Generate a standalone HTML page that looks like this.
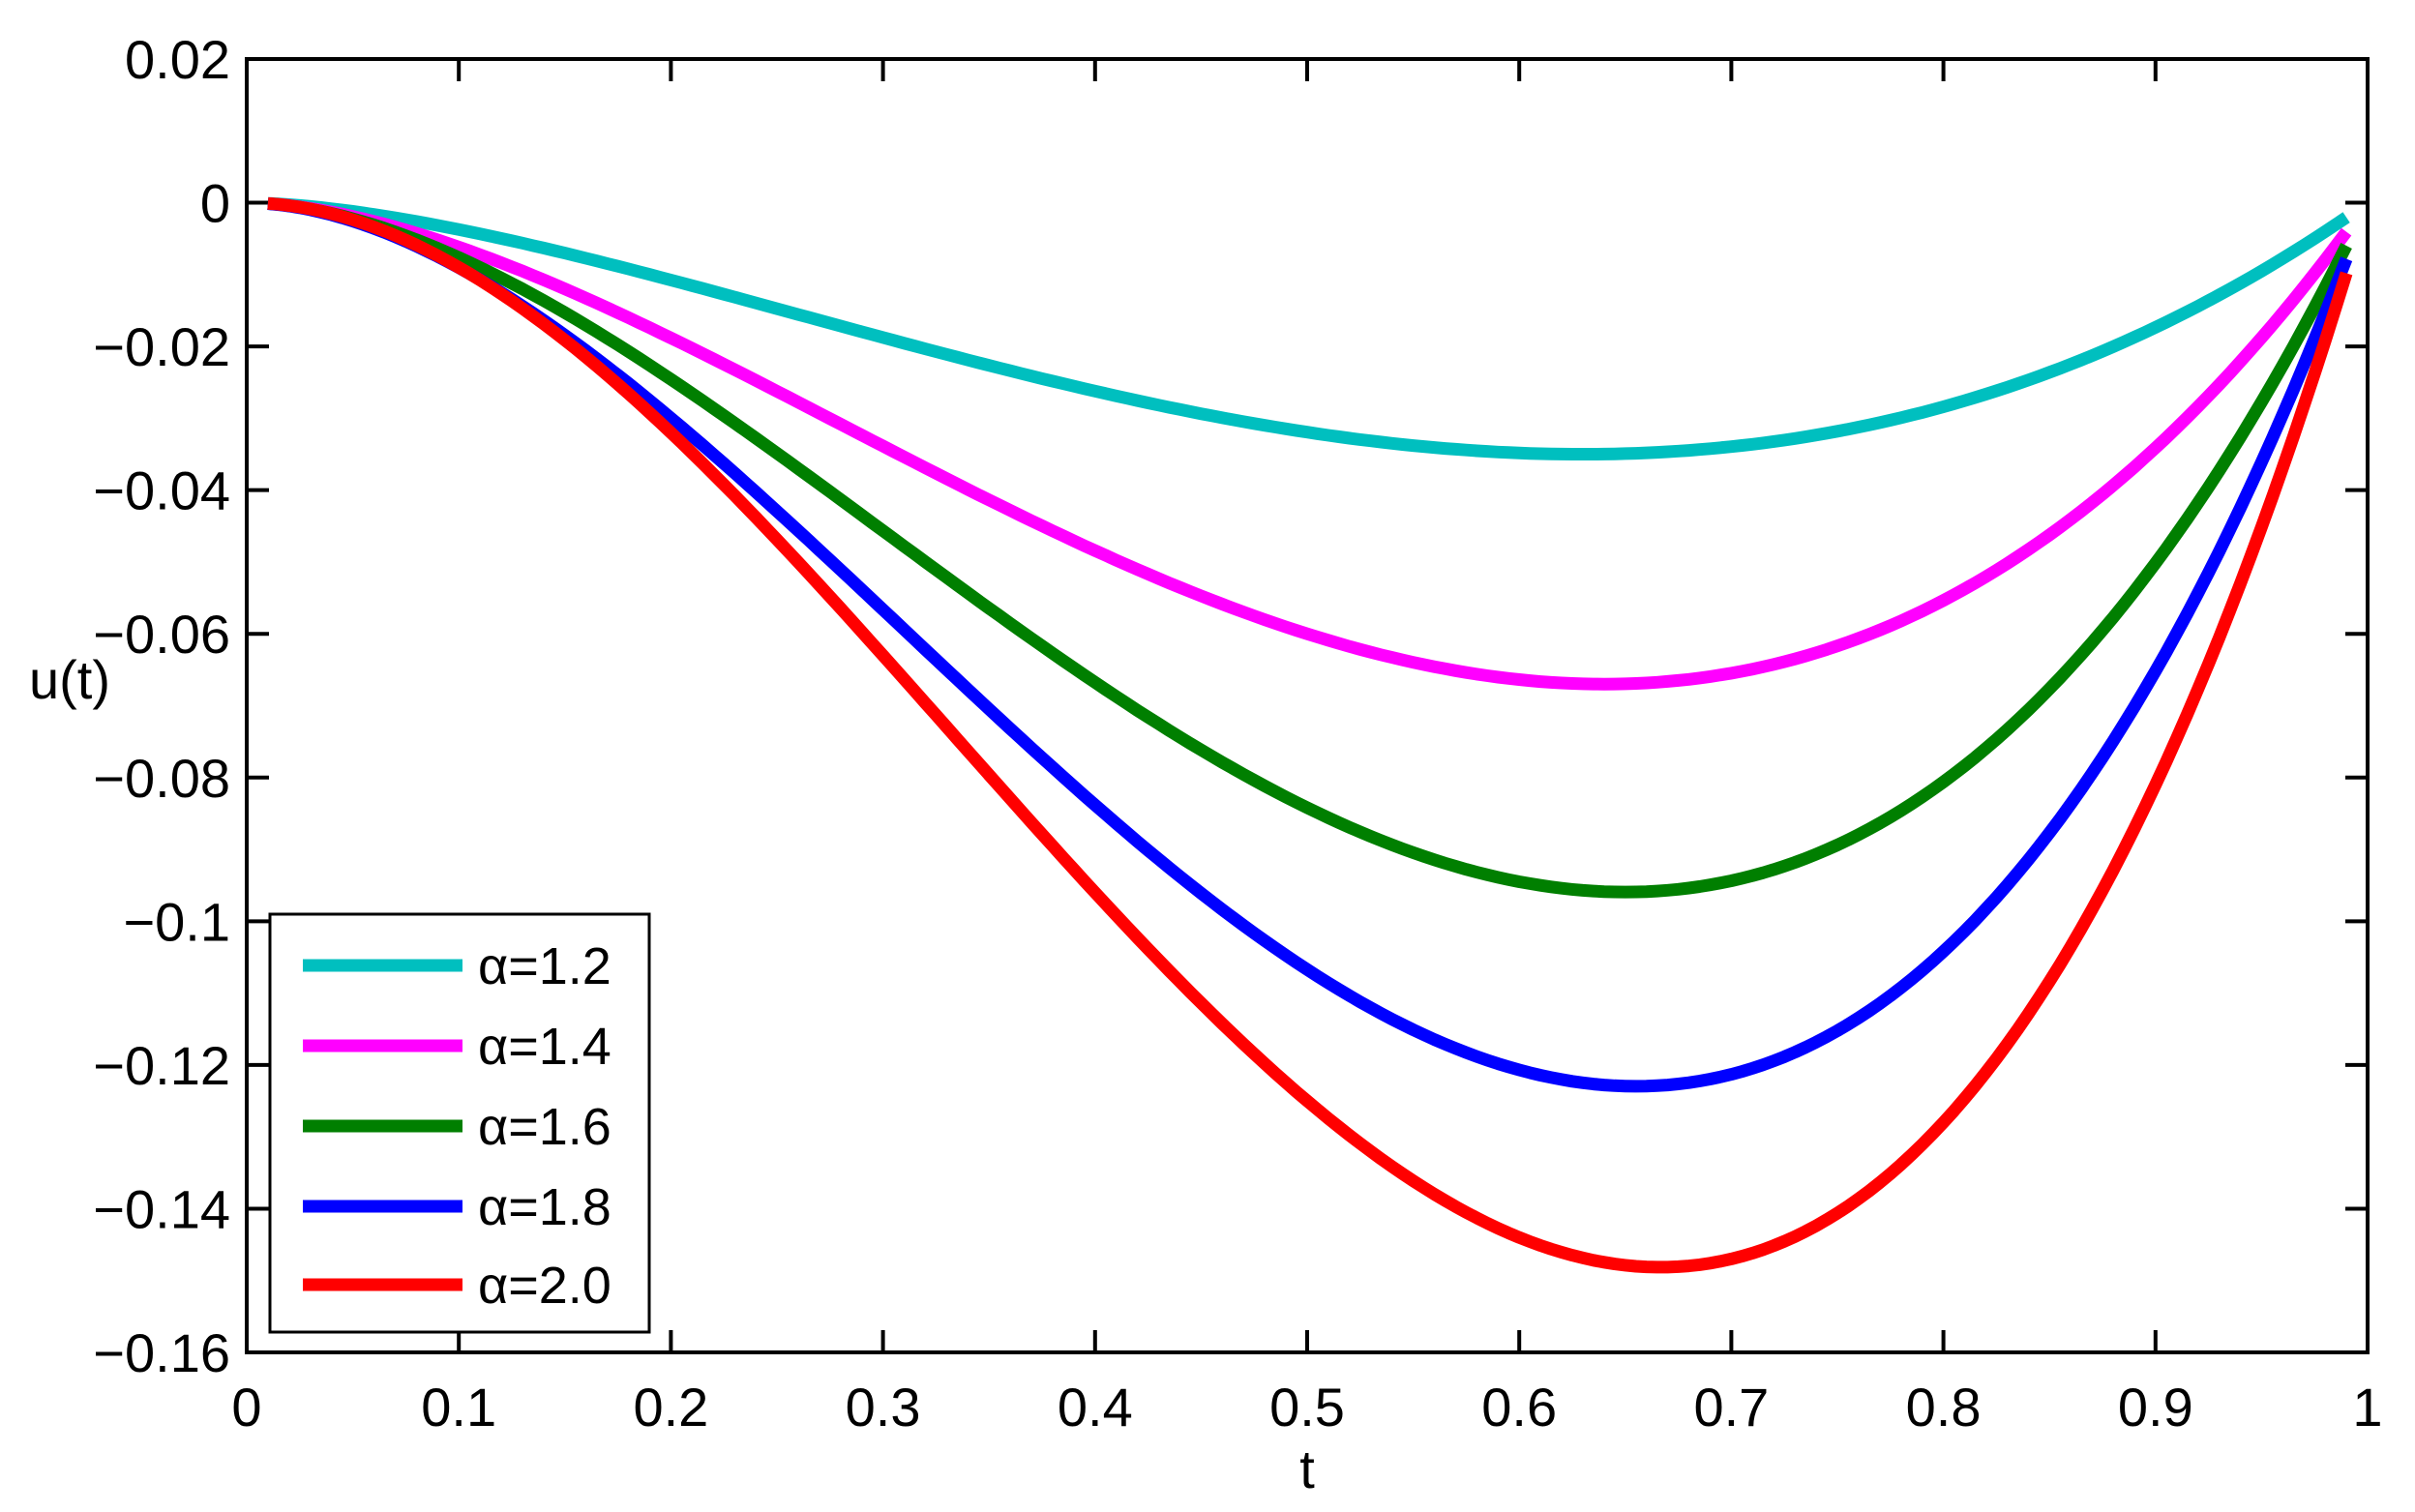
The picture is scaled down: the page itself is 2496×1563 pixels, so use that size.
<!DOCTYPE html>
<html><head><meta charset="utf-8"><style>
html,body{margin:0;padding:0;background:#fff;}
svg text{font-family:"Liberation Sans",Arial,sans-serif;fill:#000;}
</style></head><body>
<svg id="s" width="2496" height="1558" viewBox="0 0 2496 1558" xmlns="http://www.w3.org/2000/svg">
<rect width="2496" height="1558" fill="#fff"/>
<g id="ticks" stroke="#000" stroke-width="4"></g>
<g id="curves" fill="none" stroke-width="13" stroke-linejoin="round" stroke-linecap="butt"></g>
<rect x="255" y="61" width="2192" height="1337" fill="none" stroke="#000" stroke-width="4"/>
<g id="labels" font-size="56"></g>
<text x="1351" y="1538" font-size="56" text-anchor="middle">t</text>
<text x="30" y="722" font-size="56">u(t)</text>
<g>
<rect x="279" y="945" width="392" height="432" fill="#fff" stroke="#000" stroke-width="3"/>
<line x1="313" x2="478" y1="998" y2="998" stroke="#00bfbf" stroke-width="13"/>
<line x1="313" x2="478" y1="1081" y2="1081" stroke="#ff00ff" stroke-width="13"/>
<line x1="313" x2="478" y1="1164" y2="1164" stroke="#007f00" stroke-width="13"/>
<line x1="313" x2="478" y1="1247" y2="1247" stroke="#0000ff" stroke-width="13"/>
<line x1="313" x2="478" y1="1328" y2="1328" stroke="#ff0000" stroke-width="13"/>
<g font-size="54">
<text x="494" y="1017">α=1.2</text>
<text x="494" y="1100">α=1.4</text>
<text x="494" y="1183">α=1.6</text>
<text x="494" y="1266">α=1.8</text>
<text x="494" y="1347">α=2.0</text>
</g>
</g>
</svg>
<script>
var NS="http://www.w3.org/2000/svg";
function X(t){return 255+t*2192;}
function Y(v){return 61+(0.02-v)/0.18*1337;}
var tk=document.getElementById("ticks"),lb=document.getElementById("labels");
function el(p,n,a,txt){var e=document.createElementNS(NS,n);for(var k in a)e.setAttribute(k,a[k]);if(txt!=null)e.textContent=txt;p.appendChild(e);return e;}
var xl=["0","0.1","0.2","0.3","0.4","0.5","0.6","0.7","0.8","0.9","1"];
for(var i=0;i<=10;i++){var x=X(i/10);
 el(tk,"line",{x1:x,x2:x,y1:1398,y2:1375});el(tk,"line",{x1:x,x2:x,y1:61,y2:84});
 el(lb,"text",{x:x,y:1474,"text-anchor":"middle"},xl[i]);}
var yl=["0.02","0","\u22120.02","\u22120.04","\u22120.06","\u22120.08","\u22120.1","\u22120.12","\u22120.14","\u22120.16"];
for(var j=0;j<10;j++){var v=0.02-j*0.02,y=Y(v);
 el(tk,"line",{x1:255,x2:278,y1:y,y2:y});el(tk,"line",{x1:2447,x2:2424,y1:y,y2:y});
 el(lb,"text",{x:238,y:y+20,"text-anchor":"end"},yl[j]);}
var cs=[["#00bfbf",0.2075,1.70],["#ff00ff",0.4115,1.778],["#007f00",0.610,1.857],["#0000ff",0.796,1.899],["#ff0000",1,2]];
var cg=document.getElementById("curves");
cs.forEach(function(c){var d="";for(var k=0;k<=196;k++){var t=0.01+k*0.005;var v=c[1]*Math.pow(t,c[2])*(t-1);d+=(k?"L":"M")+X(t).toFixed(1)+","+Y(v).toFixed(1);}
 el(cg,"path",{d:d,stroke:c[0]});});
</script>
</body></html>
